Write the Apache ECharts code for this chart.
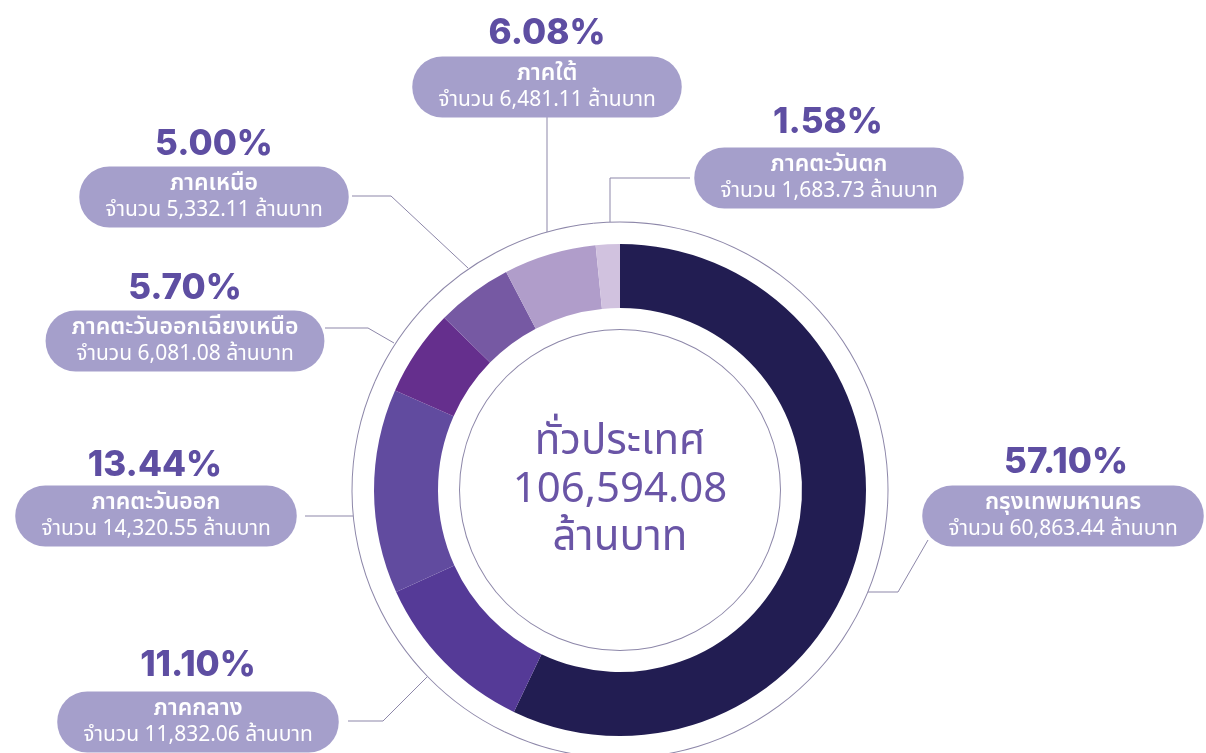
<!DOCTYPE html>
<html>
<head>
<meta charset="utf-8">
<script src="https://cdn.jsdelivr.net/npm/echarts@6/dist/echarts.min.js"></script>
<style>
  html, body { margin: 0; padding: 0; background: #ffffff; }
  #chart { width: 1206px; height: 753px; }
</style>
</head>
<body>
<div id="chart"></div>
<script>
// Regional amounts (million baht), clockwise from 12 o'clock
const regions = ['กรุงเทพมหานคร', 'ภาคกลาง', 'ภาคตะวันออก', 'ภาคตะวันออกเฉียงเหนือ', 'ภาคเหนือ', 'ภาคใต้', 'ภาคตะวันตก'];
const amounts = [60863.44, 11832.06, 14320.55, 6081.08, 5332.11, 6481.11, 1683.73];
// Published shares of the national total (%)
const shares = [57.10, 11.10, 13.44, 5.70, 5.00, 6.08, 1.58];
const totalTitle = 'ทั่วประเทศ';
const unitText = 'ล้านบาท';
const amountPrefix = 'จำนวน';

// Styling
const sliceColors = ['#221d52', '#553a97', '#614b9f', '#652f8d', '#7659a3', '#b09dca', '#d1c2df'];
const ringColor = '#8d87a9';
const bubbleColor = '#a59fcb';
const pctColor = '#5e4ea2';
const centerColor = '#6a55a6';
const thaiFont = '"Noto Sans", "Noto Sans Thai", "Open Sans", sans-serif';
const CENTER = [620, 490];

// Callout placement: bubble centre, percentage centre, leader polyline
const bubbleAt = [[1063, 516], [198, 722], [156, 516], [185, 341], [214, 197], [547, 87], [829, 178]];
const pctAt = [[1066, 462], [198, 665], [155, 465], [185, 288], [214, 144], [547, 33], [828, 122]];
const leaderPath = [
  [[868, 592], [898, 592], [928, 540]],
  [[427, 677], [383, 721], [348, 721]],
  [[353, 516], [330, 516], [305, 516]],
  [[394, 343], [368, 328], [325, 328]],
  [[468, 268], [391, 196], [352, 196]],
  [[547, 232], [547, 174], [547, 116]],
  [[610, 222], [610, 178], [690, 178]]
];

const total = amounts.reduce((a, b) => a + b, 0);
const fmt = v => v.toLocaleString('en-US', { minimumFractionDigits: 2, maximumFractionDigits: 2 });

const sliceData = regions.map((name, i) => ({ name, value: amounts[i], itemStyle: { color: sliceColors[i] } }));
const ringData = regions.map((name, i) => ({ name, value: amounts[i], itemStyle: { color: ringColor } }));
const ghostData = regions.map((name, i) => ({ name, value: amounts[i], itemStyle: { color: 'rgba(0,0,0,0)' } }));

const chart = echarts.init(document.getElementById('chart'), null, { renderer: 'canvas' });

chart.setOption({
  backgroundColor: '#ffffff',
  animation: false,
  series: [
    {
      // inner thin circle holding the total
      type: 'pie', silent: true, center: CENTER, radius: [160, 161],
      emphasis: { disabled: true },
      data: [{ value: total, itemStyle: { color: ringColor } }],
      label: {
        show: true, position: 'center',
        formatter: () => totalTitle + '\n' + fmt(total) + '\n' + unitText,
        color: centerColor, fontFamily: thaiFont, fontSize: 42, lineHeight: 48
      },
      labelLine: { show: false }
    },
    {
      // main donut
      type: 'pie', silent: true, center: CENTER, radius: [182, 246],
      startAngle: 90, clockwise: true,
      emphasis: { disabled: true },
      data: sliceData,
      label: { show: false }, labelLine: { show: false }
    },
    {
      // outer thin ring carrying the name/amount bubbles
      type: 'pie', silent: true, center: CENTER, radius: [267.5, 268.5],
      startAngle: 90, clockwise: true, avoidLabelOverlap: false,
      emphasis: { disabled: true },
      data: ringData,
      label: {
        show: true, position: 'outside',
        formatter: p => '{n|' + p.name + '}\n{v|' + amountPrefix + ' ' + fmt(p.value) + ' ' + unitText + '}',
        backgroundColor: bubbleColor, borderRadius: 30, padding: [3, 26, 3, 26],
        color: '#ffffff',
        rich: {
          n: { color: '#ffffff', fontFamily: thaiFont, fontSize: 23, fontWeight: 600, lineHeight: 27, align: 'center' },
          v: { color: '#ffffff', fontFamily: thaiFont, fontSize: 21, lineHeight: 28, align: 'center' }
        }
      },
      labelLine: { show: true, lineStyle: { color: ringColor, width: 1 } },
      labelLayout: p => ({
        x: bubbleAt[p.dataIndex][0], y: bubbleAt[p.dataIndex][1],
        align: 'center', verticalAlign: 'middle',
        labelLinePoints: leaderPath[p.dataIndex]
      })
    },
    {
      // percentage headings
      type: 'pie', silent: true, center: CENTER, radius: [267.5, 268.5],
      startAngle: 90, clockwise: true, avoidLabelOverlap: false,
      emphasis: { disabled: true },
      data: ghostData,
      label: {
        show: true, position: 'outside',
        formatter: p => shares[p.dataIndex].toFixed(2) + '%',
        color: pctColor, fontFamily: 'Inter, "Open Sans", sans-serif', fontWeight: 800, fontSize: 35
      },
      labelLine: { show: false },
      labelLayout: p => ({
        x: pctAt[p.dataIndex][0], y: pctAt[p.dataIndex][1],
        align: 'center', verticalAlign: 'middle'
      })
    }
  ]
});
</script>
</body>
</html>
